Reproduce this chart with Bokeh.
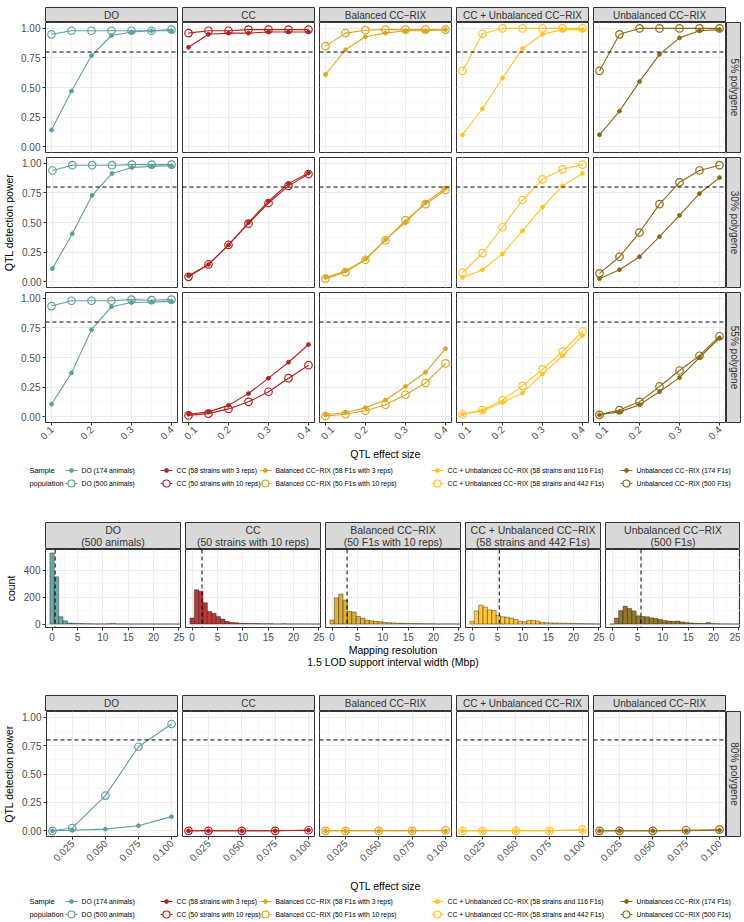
import math
from bokeh.plotting import figure
from bokeh.models import Range1d, LinearAxis, FixedTicker, Grid, Span, Label, PrintfTickFormatter
from bokeh.layouts import column, row
from bokeh.embed import file_html
from bokeh.resources import INLINE
from bokeh.core.properties import value

# ---------------- data ----------------
POPULATIONS = ["DO", "CC", "Balanced CC\u2212RIX", "CC + Unbalanced CC\u2212RIX", "Unbalanced CC\u2212RIX"]
COLORS = ["#5F9EA0", "#B22222", "#DAA520", "#FFC125", "#8B6914"]
SMALL_LABELS = ["DO (174 animals)", "CC (58 strains with 3 reps)", "Balanced CC\u2212RIX (58 F1s with 3 reps)",
                "CC + Unbalanced CC\u2212RIX (58 strains and 116 F1s)", "Unbalanced CC\u2212RIX (174 F1s)"]
LARGE_LABELS = ["DO (500 animals)", "CC (50 strains with 10 reps)", "Balanced CC\u2212RIX (50 F1s with 10 reps)",
                "CC + Unbalanced CC\u2212RIX (58 strains and 442 F1s)", "Unbalanced CC\u2212RIX (500 F1s)"]
HIST_SUBTITLES = ["(500 animals)", "(50 strains with 10 reps)", "(50 F1s with 10 reps)",
                  "(58 strains and 442 F1s)", "(500 F1s)"]

EFFECT_A = [0.10, 0.15, 0.20, 0.25, 0.30, 0.35, 0.40]
EFFECT_C = [0.010, 0.025, 0.050, 0.075, 0.100]
POLYGENE_A = ["5% polygene", "30% polygene", "55% polygene"]
POLYGENE_C = "80% polygene"
POWER_THRESHOLD = 0.8

# power, small sample (filled) and large sample (open); one list per population
SMALL_5 = [[0.14, 0.47, 0.77, 0.94, 0.97, 0.98, 0.98],
           [0.84, 0.95, 0.96, 0.96, 0.97, 0.97, 0.97],
           [0.61, 0.82, 0.93, 0.96, 0.98, 0.98, 0.99],
           [0.10, 0.32, 0.58, 0.83, 0.95, 0.99, 0.99],
           [0.10, 0.30, 0.55, 0.78, 0.92, 0.98, 0.99]]
LARGE_5 = [[0.95, 0.98, 0.98, 0.98, 0.98, 0.98, 0.99],
           [0.96, 0.98, 0.98, 0.99, 0.99, 0.99, 0.99],
           [0.85, 0.96, 0.985, 0.99, 0.99, 0.99, 0.99],
           [0.64, 0.955, 1.0, 1.0, 1.0, 1.0, 1.0],
           [0.64, 0.95, 1.0, 1.0, 1.0, 1.0, 1.0]]
SMALL_30 = [[0.11, 0.405, 0.73, 0.915, 0.965, 0.975, 0.98],
            [0.05, 0.145, 0.31, 0.50, 0.68, 0.83, 0.92],
            [0.035, 0.09, 0.19, 0.355, 0.50, 0.67, 0.79],
            [0.035, 0.10, 0.235, 0.43, 0.63, 0.81, 0.915],
            [0.025, 0.10, 0.21, 0.38, 0.56, 0.745, 0.88]]
LARGE_30 = [[0.94, 0.985, 0.985, 0.985, 0.99, 0.99, 0.99],
            [0.04, 0.145, 0.31, 0.49, 0.665, 0.81, 0.91],
            [0.025, 0.08, 0.185, 0.35, 0.52, 0.655, 0.775],
            [0.075, 0.24, 0.46, 0.69, 0.865, 0.95, 0.99],
            [0.07, 0.21, 0.415, 0.655, 0.84, 0.94, 0.985]]
SMALL_55 = [[0.105, 0.37, 0.735, 0.93, 0.965, 0.97, 0.975],
            [0.02, 0.04, 0.095, 0.195, 0.325, 0.46, 0.61],
            [0.015, 0.035, 0.075, 0.14, 0.255, 0.375, 0.575],
            [0.02, 0.05, 0.12, 0.20, 0.36, 0.515, 0.685],
            [0.015, 0.04, 0.10, 0.21, 0.33, 0.50, 0.665]]
LARGE_55 = [[0.935, 0.98, 0.98, 0.98, 0.99, 0.985, 0.99],
            [0.01, 0.025, 0.065, 0.125, 0.21, 0.325, 0.435],
            [0.005, 0.02, 0.05, 0.10, 0.185, 0.285, 0.45],
            [0.02, 0.055, 0.14, 0.26, 0.40, 0.55, 0.72],
            [0.015, 0.055, 0.125, 0.255, 0.39, 0.515, 0.68]]
SMALL_80 = [[0.0, 0.005, 0.015, 0.045, 0.125],
            [0.0, 0.0, 0.0, 0.0, 0.005],
            [0.0, 0.0, 0.0, 0.0, 0.0],
            [0.0, 0.0, 0.0, 0.0, 0.005],
            [0.0, 0.0, 0.0, 0.0, 0.005]]
LARGE_80 = [[0.0, 0.025, 0.31, 0.74, 0.94],
            [0.0, 0.0, 0.0, 0.0, 0.005],
            [0.0, 0.0, 0.0, 0.0, 0.005],
            [0.0, 0.0, 0.0, 0.0, 0.01],
            [0.0, 0.0, 0.0, 0.005, 0.01]]

# histograms of 1.5 LOD support interval width (Mbp), 30 bins spanning 0-25
HIST_RANGE = (0.0, 25.0)
HIST_BINS = 30
COUNTS_DO = [530, 352, 55, 24, 8, 5, 4, 3, 2, 2, 1, 1, 1, 2, 4, 1, 1, 1, 0, 1, 0, 1, 1, 0, 1, 0, 0, 1, 0, 0]
COUNTS_CC = [44, 256, 244, 159, 93, 80, 56, 37, 20, 12, 10, 6, 5, 4, 4, 3, 2, 2, 2, 1, 1, 2, 1, 1, 1, 1, 0, 1, 0, 0]
COUNTS_BAL = [29, 195, 224, 178, 93, 90, 56, 44, 30, 25, 20, 18, 12, 10, 8, 6, 5, 4, 4, 3, 3, 2, 2, 2, 1, 1, 1, 1, 1, 0]
COUNTS_CCU = [20, 98, 141, 127, 105, 102, 63, 54, 51, 44, 34, 20, 17, 27, 27, 22, 12, 10, 8, 7, 6, 6, 5, 4, 3, 3, 2, 2, 1, 0]
COUNTS_UNB = [0, 44, 100, 132, 115, 98, 61, 56, 54, 46, 41, 34, 27, 22, 20, 22, 15, 12, 8, 6, 5, 4, 12, 3, 2, 1, 1, 1, 0, 0]
HIST_MEDIANS = [0.6, 1.95, 2.95, 5.35, 5.7]

# ---------------- style / layout ----------------
FONT = "Liberation Sans"
STRIP_FILL = "#D9D9D9"
STRIP_TEXT = "#333333"
BORDER = "#333333"
TICK_COL = "#4D4D4D"
L = 45          # room for the y axis
PW = 132        # facet width (a, c)
GAP = 5
SGAP = 1
SW = 15         # right strip width
PH = 130
VG = 5
PWB = 135       # facet width (b)
W_TOTAL = 744


def make_fig(w, h, xr, yr, left=0, right=0, top=0, bottom=0, outline=True):
    p = figure(width=w, height=h, x_range=xr, y_range=yr, x_axis_location=None, y_axis_location=None,
               toolbar_location=None, output_backend="svg", min_border_left=left, min_border_right=right,
               min_border_top=top, min_border_bottom=bottom)
    p.center = [c for c in p.center if not isinstance(c, Grid)]
    p.outline_line_color = BORDER if outline else None
    p.outline_line_width = 1
    p.border_fill_color = "white"
    p.background_fill_color = "white"
    return p


def add_grid(p, xt, xm, yt, ym):
    for dim, t, m in ((0, xt, xm), (1, yt, ym)):
        g = Grid(dimension=dim, ticker=FixedTicker(ticks=t, minor_ticks=m),
                 grid_line_color="#EBEBEB", grid_line_width=1,
                 minor_grid_line_color="#F4F4F4", minor_grid_line_width=0.7)
        p.add_layout(g, "center")


def style_axis(ax):
    ax.axis_line_color = None
    ax.major_tick_line_color = BORDER
    ax.major_tick_out = 3
    ax.major_tick_in = 0
    ax.minor_tick_line_color = None
    ax.major_label_text_font = FONT
    ax.major_label_text_font_size = "10px"
    ax.major_label_text_color = TICK_COL
    ax.major_label_standoff = 2
    ax.axis_label_text_font = FONT
    ax.axis_label_text_font_size = "10.5px"
    ax.axis_label_text_font_style = "normal"
    ax.axis_label_text_color = "black"
    ax.axis_label_standoff = 4


def strip_text(p, x, y, text, size, angle=0.0):
    p.text(x=[x], y=[y], text=[text], angle=angle, text_align="center", text_baseline="middle",
           text_font=value(FONT), text_font_size=value(size), text_font_style="normal", text_color=STRIP_TEXT)


def strip_row(texts, widths, lefts, rights, top, h, tag=None, two_line=None):
    figs = []
    for i, t in enumerate(texts):
        p = make_fig(widths[i], h + top, Range1d(0, 1), Range1d(0, 1), left=lefts[i], right=rights[i], top=top)
        p.background_fill_color = STRIP_FILL
        if two_line is None:
            strip_text(p, 0.5, 0.5, t, "10px")
        else:
            strip_text(p, 0.5, 0.74, t, "10.5px")
            strip_text(p, 0.5, 0.28, two_line[i], "10.5px")
        if i == 0 and tag is not None:
            p.add_layout(Label(x=-L + 2, y=tag[1], x_units="screen", y_units="screen", text=tag[0],
                               text_align="left", text_baseline="middle", text_font=FONT,
                               text_font_size="13.5px", text_font_style="bold", text_color="black"))
        figs.append(p)
    return figs


def right_strip(h, bottom, text):
    p = make_fig(SW, h + bottom, Range1d(0, 1), Range1d(0, 1), bottom=bottom)
    p.background_fill_color = STRIP_FILL
    strip_text(p, 0.5, 0.5, text, "10px", angle=-math.pi / 2)
    return p


def power_row(xs, small, large, strip_label, bottom, xr, xticks, xminor, xfmt, ylabel, h):
    figs = []
    widths = [L + PW + GAP, PW + GAP, PW + GAP, PW + GAP, PW + SGAP]
    for i in range(5):
        left = L if i == 0 else 0
        right = GAP if i < 4 else SGAP
        p = make_fig(widths[i], h + bottom, Range1d(*xr), Range1d(-0.05, 1.05), left=left, right=right, bottom=bottom)
        add_grid(p, xticks, xminor, [0, 0.25, 0.5, 0.75, 1.0], [0.125, 0.375, 0.625, 0.875])
        p.add_layout(Span(location=POWER_THRESHOLD, dimension="width", line_color="black",
                          line_width=1, line_dash="4 3"))
        c = COLORS[i]
        p.line(xs, small[i], line_color=c, line_width=1.1)
        p.line(xs, large[i], line_color=c, line_width=1.1)
        p.scatter(xs, large[i], marker="circle", size=7.5, fill_color="white", fill_alpha=0.0,
                  line_color=c, line_width=1.2)
        p.scatter(xs, small[i], marker="circle", size=3.8, fill_color=c, line_color=c)
        if i == 0:
            ax = LinearAxis(ticker=FixedTicker(ticks=[0, 0.25, 0.5, 0.75, 1.0]),
                            formatter=PrintfTickFormatter(format="%.2f"))
            style_axis(ax)
            if ylabel:
                ax.axis_label = ylabel
            p.add_layout(ax, "left")
        if bottom > 10:
            ax = LinearAxis(ticker=FixedTicker(ticks=xticks), formatter=PrintfTickFormatter(format=xfmt),
                            major_label_orientation=math.pi / 4)
            style_axis(ax)
            p.add_layout(ax, "below")
        figs.append(p)
    figs.append(right_strip(h, bottom, strip_label))
    return row(figs)


def legend_fig(h, title_y, row_ys):
    p = make_fig(W_TOTAL, h, Range1d(0, W_TOTAL), Range1d(h, 0), outline=False)
    cx = L + (5 * PW + 4 * GAP) / 2
    p.text(x=[cx], y=[title_y], text=["QTL effect size"], text_align="center", text_baseline="middle",
           text_font=value(FONT), text_font_size=value("10.5px"), text_color="black")
    p.text(x=[29, 29], y=row_ys, text=["Sample", "population"], text_align="left", text_baseline="middle",
           text_font=value(FONT), text_font_size=value("7.4px"), text_color="black")
    key_x = [71, 166, 265, 437, 626]
    for i in range(5):
        kx = key_x[i]
        c = COLORS[i]
        for j, (lab, ry) in enumerate(zip([SMALL_LABELS[i], LARGE_LABELS[i]], row_ys)):
            p.segment(x0=[kx - 6], y0=[ry], x1=[kx + 6], y1=[ry], line_color=c, line_width=1.1)
            if j == 0:
                p.scatter([kx], [ry], marker="circle", size=3.8, fill_color=c, line_color=c)
            else:
                p.scatter([kx], [ry], marker="circle", size=7, fill_color="white", line_color=c, line_width=1.2)
            p.text(x=[kx + 10], y=[ry], text=[lab], text_align="left", text_baseline="middle",
                   text_font=value(FONT), text_font_size=value("6.8px"), text_color="black")
    return p


# ---------------- (a) ----------------
XR_A = (0.085, 0.415)
XT_A = [0.1, 0.2, 0.3, 0.4]
XM_A = [0.15, 0.25, 0.35]
strips_a = strip_row(POPULATIONS, [L + PW + GAP, PW + GAP, PW + GAP, PW + GAP, PW + SGAP],
                     [L, 0, 0, 0, 0], [GAP, GAP, GAP, GAP, SGAP], top=7, h=15, tag=("(a)", 12))
rows_a = [row(strips_a)]
for k, (sm, lg) in enumerate([(SMALL_5, LARGE_5), (SMALL_30, LARGE_30), (SMALL_55, LARGE_55)]):
    bottom = VG if k < 2 else 24
    rows_a.append(power_row(EFFECT_A, sm, lg, POLYGENE_A[k], bottom, XR_A, XT_A, XM_A, "%.1f",
                            "QTL detection power" if k == 1 else None, PH))
rows_a.append(legend_fig(48, 7, [24, 37]))

# ---------------- (b) ----------------
counts_all = [COUNTS_DO, COUNTS_CC, COUNTS_BAL, COUNTS_CCU, COUNTS_UNB]
bw = (HIST_RANGE[1] - HIST_RANGE[0]) / (HIST_BINS - 1)
lefts_b = [HIST_RANGE[0] + (k - 0.5) * bw for k in range(HIST_BINS)]
rights_b = [HIST_RANGE[0] + (k + 0.5) * bw for k in range(HIST_BINS)]
strips_b = strip_row(POPULATIONS, [L + PWB + GAP, PWB + GAP, PWB + GAP, PWB + GAP, PWB],
                     [L, 0, 0, 0, 0], [GAP, GAP, GAP, GAP, 0], top=28, h=27, tag=("(b)", 33),
                     two_line=HIST_SUBTITLES)
hist_figs = []
for i in range(5):
    w = (L + PWB + GAP) if i == 0 else (PWB + GAP if i < 4 else PWB)
    p = make_fig(w, 79 + 15, Range1d(-1.3, 25.3), Range1d(-26, 556), left=L if i == 0 else 0,
                 right=GAP if i < 4 else 0, bottom=15)
    add_grid(p, [0, 5, 10, 15, 20, 25], [2.5, 7.5, 12.5, 17.5, 22.5], [0, 200, 400], [100, 300, 500])
    p.quad(left=lefts_b, right=rights_b, bottom=0, top=counts_all[i], fill_color=COLORS[i], fill_alpha=0.9,
           line_color="#1A1A1A", line_width=0.5, line_alpha=0.8)
    p.add_layout(Span(location=HIST_MEDIANS[i], dimension="height", line_color="black", line_width=1,
                      line_dash="4 3"))
    ax = LinearAxis(ticker=FixedTicker(ticks=[0, 5, 10, 15, 20, 25]), formatter=PrintfTickFormatter(format="%d"))
    style_axis(ax)
    p.add_layout(ax, "below")
    if i == 0:
        ay = LinearAxis(ticker=FixedTicker(ticks=[0, 200, 400]), formatter=PrintfTickFormatter(format="%d"))
        style_axis(ay)
        ay.axis_label = "count"
        p.add_layout(ay, "left")
    hist_figs.append(p)

tb = make_fig(W_TOTAL, 25, Range1d(0, W_TOTAL), Range1d(25, 0), outline=False)
cxb = L + (5 * PWB + 4 * GAP) / 2
tb.text(x=[cxb, cxb], y=[6, 18], text=["Mapping resolution", "1.5 LOD support interval width (Mbp)"],
        text_align="center", text_baseline="middle", text_font=value(FONT), text_font_size=value("10.5px"),
        text_color="black")

# ---------------- (c) ----------------
XR_C = (0.0055, 0.1045)
XT_C = [0.025, 0.05, 0.075, 0.1]
XM_C = [0.0125, 0.0375, 0.0625, 0.0875]
strips_c = strip_row(POPULATIONS, [L + PW + GAP, PW + GAP, PW + GAP, PW + GAP, PW + SGAP],
                     [L, 0, 0, 0, 0], [GAP, GAP, GAP, GAP, SGAP], top=27, h=16, tag=("(c)", 21))
row_c = power_row(EFFECT_C, SMALL_80, LARGE_80, POLYGENE_C, 34, XR_C, XT_C, XM_C, "%.3f",
                  "QTL detection power", 125)

layout = column(*rows_a, row(strips_b), row(hist_figs), tb, row(strips_c), row_c,
                legend_fig(50, 15, [31, 44]))

open("out.html", "w").write(file_html(layout, INLINE))
